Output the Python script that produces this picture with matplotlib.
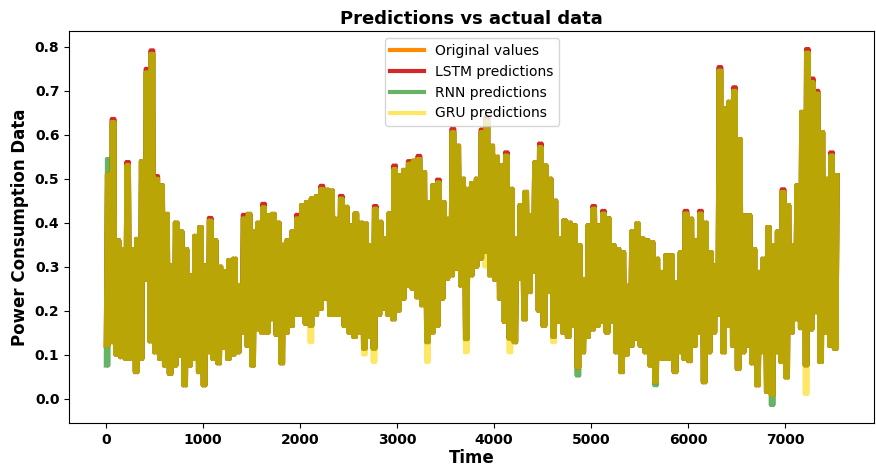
import numpy as np
import matplotlib
matplotlib.use('Agg')
from matplotlib import pyplot as plt

# time grid, one reading every 50 steps
t = np.arange(0, 7501, 50)

# daily peaks / troughs of the original series
orig_hi = [0.51, 0.629, 0.36, 0.34, 0.531, 0.34, 0.363, 0.54, 0.742, 0.784,
           0.50, 0.485, 0.42, 0.303, 0.40, 0.38, 0.34, 0.28, 0.37, 0.39,
           0.303, 0.405, 0.36, 0.30, 0.29, 0.315, 0.318, 0.258, 0.41, 0.42,
           0.38, 0.40, 0.435, 0.417, 0.42, 0.40, 0.35, 0.36, 0.38, 0.41,
           0.44, 0.447, 0.455, 0.46, 0.477, 0.475, 0.473, 0.409, 0.455, 0.436,
           0.394, 0.421, 0.40, 0.398, 0.349, 0.432, 0.402, 0.364, 0.421, 0.522,
           0.508, 0.52, 0.534, 0.541, 0.545, 0.515, 0.447, 0.485, 0.492, 0.447,
           0.409, 0.606, 0.575, 0.50, 0.477, 0.49, 0.50, 0.606, 0.632, 0.575,
           0.55, 0.53, 0.553, 0.477, 0.364, 0.44, 0.47, 0.417, 0.537, 0.572,
           0.53, 0.50, 0.45, 0.364, 0.405, 0.40, 0.394, 0.349, 0.272, 0.394,
           0.432, 0.394, 0.421, 0.41, 0.349, 0.34, 0.333, 0.257, 0.38, 0.398,
           0.364, 0.36, 0.356, 0.318, 0.288, 0.326, 0.326, 0.265, 0.333, 0.421,
           0.409, 0.36, 0.421, 0.40, 0.333, 0.303, 0.746, 0.66, 0.675, 0.70,
           0.59, 0.417, 0.417, 0.34, 0.288, 0.318, 0.39, 0.349, 0.38, 0.47,
           0.44, 0.349, 0.485, 0.652, 0.787, 0.72, 0.694, 0.606, 0.50, 0.553,
           0.508]
orig_lo = [0.12, 0.128, 0.10, 0.094, 0.09, 0.09, 0.06, 0.09, 0.27, 0.13,
           0.105, 0.09, 0.075, 0.056, 0.075, 0.097, 0.03, 0.075, 0.09, 0.06,
           0.03, 0.105, 0.09, 0.08, 0.115, 0.09, 0.10, 0.105, 0.15, 0.12,
           0.075, 0.157, 0.15, 0.15, 0.18, 0.145, 0.08, 0.15, 0.165, 0.19,
           0.19, 0.17, 0.165, 0.19, 0.204, 0.227, 0.19, 0.19, 0.19, 0.165,
           0.15, 0.14, 0.15, 0.113, 0.14, 0.113, 0.19, 0.204, 0.19, 0.18,
           0.20, 0.227, 0.257, 0.25, 0.23, 0.212, 0.128, 0.15, 0.165, 0.227,
           0.272, 0.28, 0.295, 0.257, 0.135, 0.28, 0.30, 0.318, 0.333, 0.28,
           0.27, 0.227, 0.174, 0.136, 0.128, 0.272, 0.18, 0.242, 0.288, 0.20,
           0.165, 0.242, 0.14, 0.174, 0.15, 0.14, 0.165, 0.07, 0.105, 0.14,
           0.157, 0.165, 0.174, 0.15, 0.174, 0.105, 0.06, 0.10, 0.12, 0.136,
           0.12, 0.105, 0.075, 0.037, 0.09, 0.09, 0.09, 0.06, 0.105, 0.09,
           0.085, 0.12, 0.15, 0.037, 0.105, 0.15, 0.19, 0.105, 0.165, 0.12,
           0.067, 0.105, 0.12, 0.08, 0.03, 0.105, 0.015, 0.008, 0.105, 0.083,
           0.048, 0.15, 0.18, 0.16, 0.075, 0.157, 0.196, 0.083, 0.15, 0.12,
           0.113]

# where the predictions visibly leave the original (time -> value)
lstm_hi_fix = {50: 0.636, 200: 0.538, 400: 0.75, 450: 0.792, 500: 0.506,
               1050: 0.411, 1400: 0.418, 1600: 0.443, 1950: 0.418, 2200: 0.484,
               2400: 0.461, 2750: 0.438, 2950: 0.53, 3100: 0.54, 3200: 0.552,
               3400: 0.498, 3550: 0.614, 3850: 0.612, 3900: 0.64, 4100: 0.56,
               4450: 0.58, 5000: 0.438, 5100: 0.427, 5950: 0.427, 6100: 0.427,
               6300: 0.754, 6450: 0.708, 6950: 0.476, 7200: 0.795, 7250: 0.728,
               7300: 0.70, 7450: 0.56}
rnn_hi_fix = {0: 0.545}
rnn_lo_fix = {0: 0.075, 4850: 0.052, 5650: 0.03, 6850: -0.015}
gru_lo_fix = {2100: 0.128, 2650: 0.10, 2750: 0.083, 3300: 0.083, 3700: 0.105,
              3900: 0.30, 4150: 0.105, 4600: 0.128, 7200: 0.01}

labels = ['Original values', 'LSTM predictions', 'RNN predictions', 'GRU predictions']
colors = ['darkorange', 'tab:red', 'green', 'gold']
alphas = [1.0, 1.0, 0.6, 0.6]


def apply_fix(base, fix):
    vals = list(base)
    for k, v in fix.items():
        vals[k // 50] = v
    return vals


series = [
    (orig_hi, orig_lo),
    (apply_fix(orig_hi, lstm_hi_fix), orig_lo),
    (apply_fix(orig_hi, rnn_hi_fix), apply_fix(orig_lo, rnn_lo_fix)),
    (orig_hi, apply_fix(orig_lo, gru_lo_fix)),
]

fig = plt.figure(figsize=(8.76, 4.72), dpi=100)
ax = fig.add_axes([0.079, 0.104, 0.919, 0.830])

# two daily cycles per 50-step reading: trough, peak, trough, peak
x = np.column_stack([t, t + 12.5, t + 25, t + 37.5]).ravel()
for (hi, lo), lab, c, a in zip(series, labels, colors, alphas):
    y = np.column_stack([lo, hi, lo, hi]).ravel()
    ax.plot(x, y, color=c, alpha=a, lw=3, label=lab)

ax.set_title('Predictions vs actual data', fontsize=13, fontweight='bold', pad=5)
ax.set_xlabel('Time', fontsize=12, fontweight='bold', labelpad=2)
ax.set_ylabel('Power Consumption Data', fontsize=12, fontweight='bold')
for lbl in ax.get_xticklabels() + ax.get_yticklabels():
    lbl.set_fontweight('bold')
ax.tick_params(labelsize=10)
ax.legend(loc='upper center', fontsize=10, handlelength=2.4)

fig.savefig('out.png', dpi=100)
